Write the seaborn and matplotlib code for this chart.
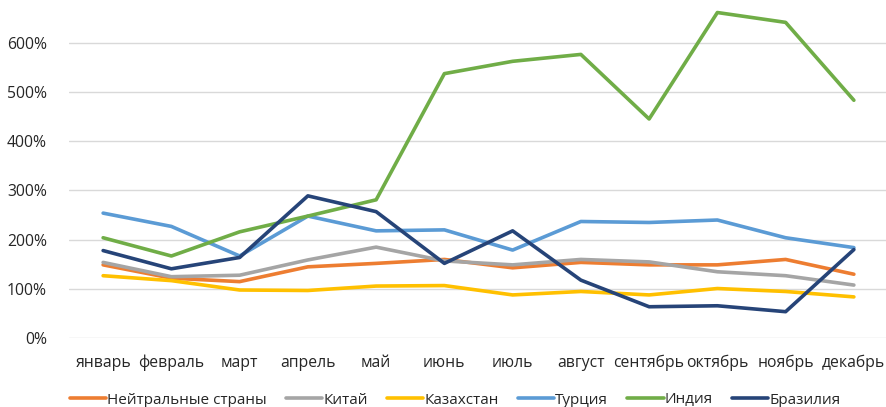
import matplotlib
matplotlib.use("Agg")
import matplotlib.pyplot as plt
import seaborn as sns
import pandas as pd
from matplotlib.ticker import FuncFormatter

months = ["январь", "февраль", "март", "апрель", "май", "июнь",
          "июль", "август", "сентябрь", "октябрь", "ноябрь", "декабрь"]

neutral = [149, 122, 115, 145, 152, 160, 143, 154, 149, 149, 160, 130]
china = [154, 125, 128, 159, 185, 157, 149, 160, 155, 135, 127, 108]
kazakhstan = [127, 117, 98, 97, 106, 107, 88, 95, 88, 101, 95, 84]
turkey = [254, 227, 167, 248, 218, 220, 179, 237, 235, 240, 204, 184]
india = [204, 167, 216, 248, 281, 537, 562, 576, 445, 661, 641, 483]
brazil = [178, 141, 164, 289, 257, 152, 218, 118, 64, 66, 54, 180]

series_names = ["Нейтральные страны", "Китай", "Казахстан", "Турция", "Индия", "Бразилия"]
series_values = [neutral, china, kazakhstan, turkey, india, brazil]
colors = ["#ED7D31", "#A5A5A5", "#FFC000", "#5B9BD5", "#70AD47", "#264478"]

rows = []
for name, vals in zip(series_names, series_values):
    for i, (m, v) in enumerate(zip(months, vals)):
        rows.append({"month": m, "idx": i, "series": name, "value": v})
df = pd.DataFrame(rows)

sns.set_theme(style="white")
plt.rcParams["font.family"] = ["Open Sans", "DejaVu Sans"]

W, H = 886, 407
fig = plt.figure(figsize=(W / 100, H / 100), dpi=100)
ax = fig.add_axes([69 / W, (H - 338.3) / H, (888 - 69) / W, (338.3 + 6.7) / H])

sns.lineplot(data=df, x="idx", y="value", hue="series", hue_order=series_names,
             palette=colors, linewidth=2.6, ax=ax, sort=False, legend=True)

ax.set_xlim(-0.5, 11.5)
ax.set_ylim(0, 700)
ax.set_yticks([0, 100, 200, 300, 400, 500, 600])
ax.yaxis.set_major_formatter(FuncFormatter(lambda v, p: f"{int(v)}%"))
ax.set_xticks(range(12))
ax.set_xticklabels(months)
ax.grid(axis="y", color="#D9D9D9", linewidth=1)
ax.axhline(700, color="#D9D9D9", linewidth=1, zorder=0)
ax.set_axisbelow(True)
for s in ax.spines.values():
    s.set_visible(False)
ax.tick_params(axis="both", length=0, labelsize=11.3, colors="#262626")
ax.tick_params(axis="y", pad=16)
ax.tick_params(axis="x", pad=12)
ax.set_xlabel("")
ax.set_ylabel("")

handles, labels = ax.get_legend_handles_labels()
ax.legend(handles, labels, loc="center", bbox_to_anchor=(455 / W, (H - 400) / H),
          bbox_transform=fig.transFigure, ncol=6, frameon=False,
          fontsize=11, handlelength=2.4, handletextpad=0.05, columnspacing=1.25,
          labelcolor="#262626", borderpad=0, borderaxespad=0)

fig.savefig("out.png", dpi=100)
